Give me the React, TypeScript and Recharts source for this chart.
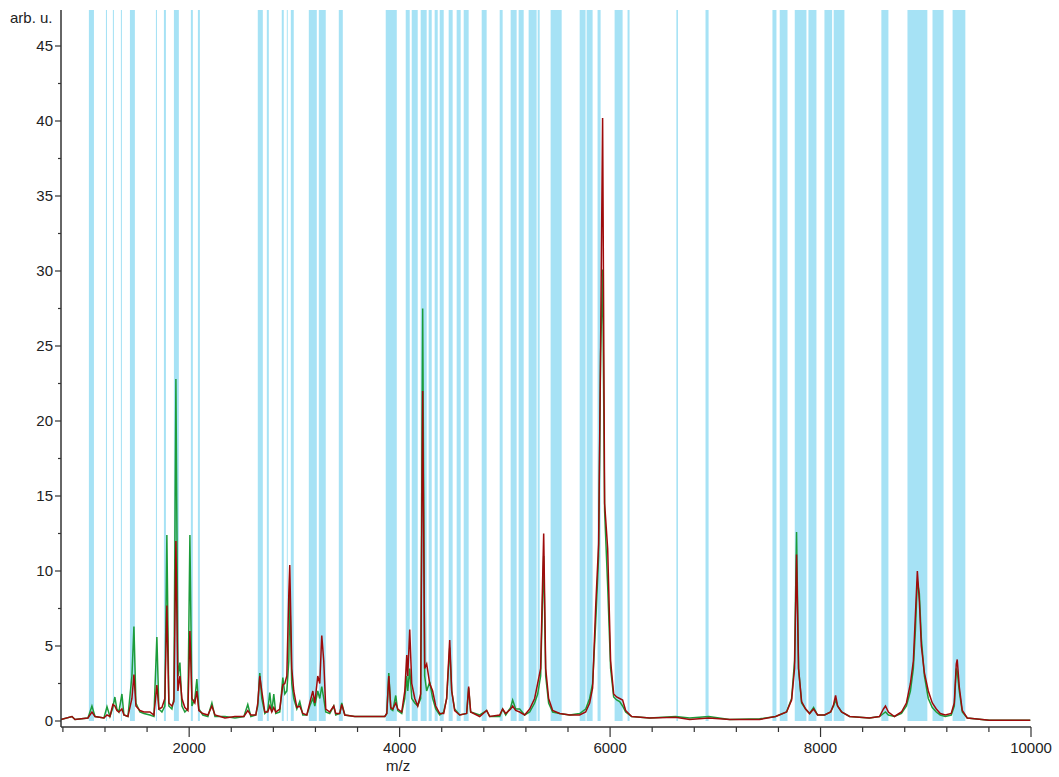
// mass spectrum with highlighted m/z windows

import { LineChart, Line, XAxis, YAxis, ReferenceArea } from "recharts";

// m/z sample points shared by both spectra
const mz = [
  782, 886, 915, 1038, 1076, 1105, 1190, 1219, 1247, 1275, 1294, 1313, 1332, 1361, 1380, 1418,
  1456, 1475, 1494, 1532, 1570, 1627, 1665, 1693, 1712, 1741, 1769, 1788, 1807, 1836, 1855, 1874,
  1893, 1912, 1931, 1959, 1988, 2007, 2026, 2054, 2073, 2092, 2130, 2178, 2216, 2245, 2340, 2435,
  2520, 2557, 2586, 2633, 2652, 2671, 2690, 2719, 2747, 2766, 2785, 2804, 2823, 2861, 2890, 2909,
  2928, 2947, 2956, 2975, 2994, 3023, 3051, 3080, 3118, 3146, 3175, 3194, 3222, 3241, 3260, 3279,
  3298, 3336, 3374, 3393, 3431, 3450, 3479, 3574, 3669, 3764, 3859, 3878, 3897, 3916, 3935, 3963,
  3982, 4020, 4049, 4068, 4077, 4096, 4115, 4144, 4172, 4200, 4219, 4238, 4257, 4286, 4314, 4343,
  4381, 4419, 4447, 4476, 4495, 4523, 4571, 4637, 4656, 4675, 4761, 4827, 4856, 4951, 4979, 5008,
  5055, 5074, 5103, 5141, 5188, 5236, 5283, 5312, 5340, 5369, 5388, 5416, 5454, 5521, 5616, 5711,
  5768, 5806, 5834, 5863, 5891, 5910, 5929, 5948, 5977, 6005, 6034, 6062, 6091, 6119, 6148, 6205,
  6376, 6623, 6756, 6937, 7136, 7421, 7573, 7677, 7725, 7753, 7772, 7791, 7820, 7858, 7896, 7934,
  7972, 8039, 8096, 8124, 8143, 8162, 8200, 8276, 8465, 8560, 8598, 8617, 8645, 8702, 8769, 8816,
  8854, 8882, 8901, 8920, 8939, 8958, 8987, 9024, 9062, 9100, 9138, 9185, 9242, 9271, 9290, 9299,
  9318, 9347, 9394, 9603, 9993,
];

const green = [
  0.1, 0.3, 0.1, 0.2, 1.0, 0.3, 0.2, 0.95, 0.3, 0.9, 1.6, 0.8, 0.6, 1.8, 0.4, 0.3,
  3.0, 6.3, 1.2, 0.6, 0.5, 0.4, 0.3, 5.6, 0.8, 0.6, 1.0, 12.4, 1.0, 0.8, 1.5, 22.8,
  3.0, 3.9, 1.0, 0.6, 0.8, 12.4, 1.0, 1.5, 2.8, 0.8, 0.4, 0.3, 1.2, 0.3, 0.3, 0.2,
  0.3, 1.1, 0.3, 0.4, 1.0, 3.2, 1.5, 0.5, 0.7, 1.9, 0.6, 1.8, 0.5, 0.6, 2.9, 1.8,
  2.0, 4.0, 8.6, 2.5, 1.5, 0.8, 1.3, 0.4, 0.4, 1.0, 1.5, 1.0, 2.0, 1.5, 2.3, 1.5,
  0.6, 0.5, 1.0, 0.4, 0.5, 1.2, 0.4, 0.3, 0.3, 0.3, 0.3, 0.5, 3.2, 0.8, 0.7, 1.7,
  0.7, 0.5, 1.5, 3.0, 2.0, 3.5, 1.5, 1.2, 1.0, 1.5, 27.5, 3.0, 2.0, 2.6, 1.5, 0.8,
  0.4, 0.6, 1.5, 4.9, 2.0, 0.8, 0.4, 0.5, 2.2, 0.6, 0.4, 0.7, 0.3, 0.3, 0.8, 0.4,
  0.9, 1.4, 0.8, 0.8, 0.4, 0.6, 1.2, 1.8, 3.0, 11.0, 3.0, 1.2, 0.6, 0.5, 0.4, 0.5,
  0.8, 1.5, 2.5, 6.5, 11.0, 24.5, 30.1, 14.0, 9.0, 3.5, 1.6, 1.4, 1.3, 1.0, 0.6, 0.3,
  0.2, 0.3, 0.2, 0.3, 0.1, 0.15, 0.3, 0.6, 1.5, 4.0, 12.6, 3.5, 1.2, 0.8, 0.5, 0.9,
  0.4, 0.4, 0.6, 1.0, 1.4, 1.0, 0.6, 0.3, 0.2, 0.3, 0.5, 0.6, 0.4, 0.3, 0.5, 1.0,
  2.0, 3.5, 6.0, 9.3, 8.5, 5.5, 3.0, 1.5, 0.9, 0.6, 0.4, 0.3, 0.4, 1.0, 3.5, 3.3,
  2.0, 0.6, 0.2, 0.05, 0.05,
];

const red = [
  0.1, 0.3, 0.1, 0.2, 0.6, 0.3, 0.2, 0.4, 0.3, 1.1, 1.0, 0.7, 0.6, 0.8, 0.4, 0.3,
  1.5, 3.1, 1.0, 0.7, 0.6, 0.6, 0.4, 2.4, 0.8, 0.9, 1.5, 7.7, 1.2, 1.0, 1.3, 12.0,
  2.0, 3.0, 1.5, 0.9, 0.7, 6.0, 1.5, 1.2, 2.0, 0.7, 0.5, 0.4, 1.0, 0.4, 0.2, 0.3,
  0.3, 0.7, 0.4, 0.4, 1.2, 3.0, 2.0, 0.6, 0.6, 1.0, 0.6, 0.9, 0.6, 0.8, 2.4, 2.5,
  3.0, 8.5, 10.4, 3.5, 2.0, 0.9, 1.0, 0.5, 0.4, 1.2, 2.0, 1.2, 3.0, 2.5, 5.7, 4.0,
  0.8, 0.6, 1.0, 0.5, 0.5, 1.1, 0.4, 0.3, 0.3, 0.3, 0.3, 0.5, 3.0, 0.9, 0.8, 1.2,
  0.8, 0.6, 2.0, 4.4, 3.0, 6.1, 2.5, 1.5, 1.0, 1.8, 22.0, 3.5, 3.8, 2.5, 2.0, 1.0,
  0.5, 0.5, 1.5, 5.4, 2.0, 0.7, 0.4, 0.5, 2.3, 0.6, 0.3, 0.7, 0.3, 0.4, 0.8, 0.5,
  0.8, 1.0, 0.7, 0.6, 0.4, 0.8, 1.5, 2.5, 3.5, 12.5, 3.5, 1.5, 0.7, 0.5, 0.4, 0.4,
  0.6, 1.2, 2.2, 7.6, 11.8, 25.0, 40.2, 14.5, 11.5, 4.0, 1.8, 1.6, 1.5, 1.4, 0.7, 0.3,
  0.2, 0.25, 0.1, 0.2, 0.1, 0.1, 0.3, 0.6, 1.4, 3.5, 11.1, 3.5, 1.3, 0.8, 0.5, 0.8,
  0.4, 0.4, 0.6, 1.1, 1.7, 1.0, 0.6, 0.3, 0.2, 0.3, 0.8, 1.0, 0.6, 0.3, 0.6, 1.2,
  2.5, 4.0, 7.0, 10.0, 8.0, 5.0, 3.2, 2.0, 1.2, 0.8, 0.5, 0.4, 0.5, 1.2, 3.8, 4.1,
  2.3, 0.7, 0.2, 0.05, 0.05,
];

// highlighted m/z windows
const bandStart = [
  1047, 1209, 1275, 1351, 1437, 1684, 1760, 1855, 2016, 2083, 2652, 2738, 2880, 2928, 2966, 3137,
  3232, 3422, 3868, 4058, 4115, 4200, 4276, 4333, 4381, 4466, 4542, 4609, 4780, 4951, 5055, 5131,
  5226, 5312, 5435, 5711, 5777, 5881, 6043, 6166, 6630, 6907, 7543, 7612, 7755, 7885, 8037, 8125,
  8578, 8826, 9064, 9255,
];
const bandEnd = [
  1095, 1219, 1285, 1361, 1484, 1694, 1779, 1902, 2035, 2102, 2700, 2757, 2899, 2937, 2994, 3213,
  3298, 3460, 3973, 4096, 4172, 4257, 4305, 4362, 4419, 4504, 4580, 4656, 4827, 4979, 5112, 5179,
  5302, 5331, 5540, 5767, 5834, 5910, 6119, 6185, 6645, 6936, 7581, 7686, 7866, 7961, 8110, 8227,
  8645, 9015, 9169, 9376,
];

const xTicks = [800, 1200, 1600, 2000, 2400, 2800, 3200, 3600, 4000, 4400, 4800, 5200, 5600, 6000,
  6400, 6800, 7200, 7600, 8000, 8400, 8800, 9200, 9600, 10000];
const yTicks = [0, 2.5, 5, 7.5, 10, 12.5, 15, 17.5, 20, 22.5, 25, 27.5, 30, 32.5, 35, 37.5, 40, 42.5, 45];

const data = mz.map((m, i) => ({ mz: m, green: green[i], red: red[i] }));

const font = "'Liberation Sans', Arial, sans-serif";
const axisColor = "#333";

function XTick({ x, y, payload }: any) {
  const major = payload.value % 2000 === 0;
  return (
    <g>
      <line x1={x} x2={x} y1={y} y2={y + (major ? 10 : 5)} stroke={axisColor} strokeWidth={1.2} />
      {major && (
        <text x={x} y={y + 26} textAnchor="middle" fontSize={15} fill="#222" fontFamily={font}>
          {payload.value}
        </text>
      )}
    </g>
  );
}

function YTick({ x, y, payload }: any) {
  const major = payload.value % 5 === 0;
  return (
    <g>
      <line x1={x} x2={x - (major ? 6 : 3)} y1={y} y2={y} stroke={axisColor} strokeWidth={1.2} />
      {major && (
        <text x={x - 8} y={y + 5} textAnchor="end" fontSize={15} fill="#222" fontFamily={font}>
          {payload.value}
        </text>
      )}
    </g>
  );
}

export default function App() {
  return (
    <div style={{ position: "absolute", left: 0, top: 0, width: 1059, height: 777, background: "#fff" }}>
      <LineChart width={1059} height={777} data={data} margin={{ top: 10, right: 28, bottom: 20, left: 11 }}>
        {bandStart.map((s, i) => (
          <ReferenceArea
            key={i}
            x1={s}
            x2={bandEnd[i]}
            y1={0}
            y2={47.4}
            fill="#a6e2f5"
            fillOpacity={1}
            stroke="none"
            ifOverflow="visible"
          />
        ))}
        <XAxis
          dataKey="mz"
          type="number"
          domain={[782, 10000]}
          ticks={xTicks}
          allowDataOverflow
          tickSize={0}
          tickMargin={0}
          tickLine={false}
          tick={<XTick />}
          height={30}
          stroke={axisColor}
          strokeWidth={1.5}
          interval={0}
        />
        <YAxis
          type="number"
          domain={[-0.4, 47.4]}
          ticks={yTicks}
          allowDataOverflow
          tickSize={0}
          tickMargin={0}
          tickLine={false}
          tick={<YTick />}
          width={50}
          stroke={axisColor}
          strokeWidth={1.5}
          interval={0}
        />
        <Line dataKey="green" type="linear" stroke="#1c9c3a" strokeWidth={1.5} dot={false} isAnimationActive={false} />
        <Line dataKey="red" type="linear" stroke="#9e0b0b" strokeWidth={1.5} dot={false} isAnimationActive={false} />
      </LineChart>
      <div style={{ position: "absolute", left: 10, top: 9, fontFamily: font, fontSize: 15, color: "#222" }}>arb. u.</div>
      <div style={{ position: "absolute", left: 386, top: 757, fontFamily: font, fontSize: 15, color: "#222" }}>m/z</div>
    </div>
  );
}
